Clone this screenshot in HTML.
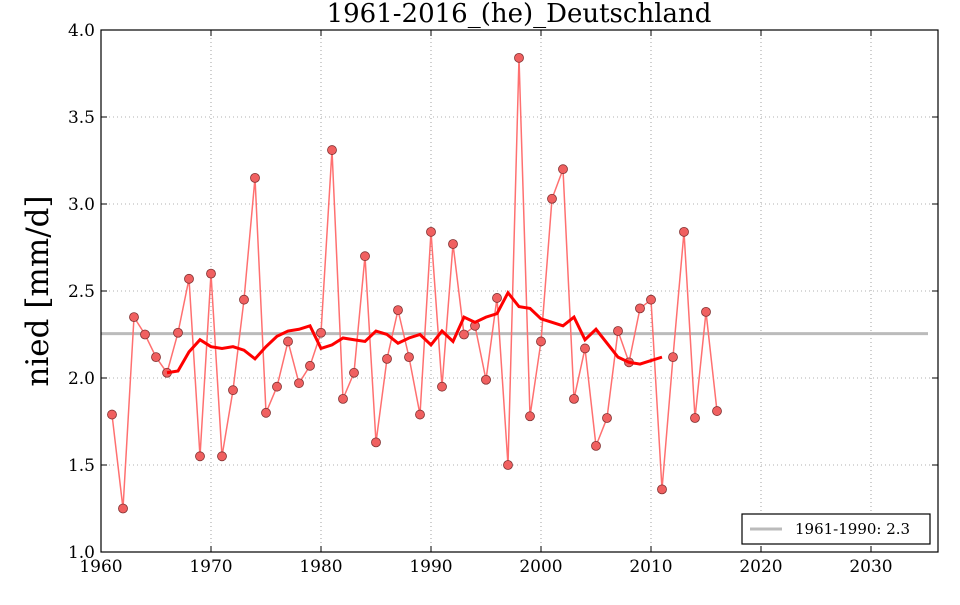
<!DOCTYPE html>
<html><head><meta charset="utf-8"><style>
body{margin:0;background:#fff}
svg text{font-family:"DejaVu Serif","Liberation Serif",serif}
</style></head><body>
<svg id="s" width="960" height="600" xmlns="http://www.w3.org/2000/svg">
<rect width="960" height="600" fill="#fff"/>
<g id="grid" stroke="#000" stroke-width="0.6" stroke-dasharray="1,3" opacity="0.6"></g>
<g id="ticks" stroke="#000" stroke-width="1"></g>
<g font-size="17" text-anchor="middle">
<text x="101" y="572">1960</text><text x="211" y="572">1970</text><text x="321" y="572">1980</text><text x="431" y="572">1990</text><text x="541" y="572">2000</text><text x="651" y="572">2010</text><text x="761" y="572">2020</text><text x="871" y="572">2030</text>
</g>
<g font-size="17" text-anchor="end">
<text x="95" y="558">1.0</text><text x="95" y="471">1.5</text><text x="95" y="384">2.0</text><text x="95" y="297">2.5</text><text x="95" y="210">3.0</text><text x="95" y="123">3.5</text><text x="95" y="36">4.0</text>
</g>
<text x="519" y="22" font-size="26" text-anchor="middle">1961-2016_(he)_Deutschland</text>
<text transform="translate(48,291) rotate(-90)" font-size="31" text-anchor="middle">nied [mm/d]</text>
<line x1="101" y1="333.6" x2="928" y2="333.6" stroke="#bbb" stroke-width="3"/>
<g id="data"></g>
<rect x="101" y="30" width="837" height="522" fill="none" stroke="#000" stroke-width="1.2"/>
<rect x="742" y="514" width="188" height="30" fill="#fff" stroke="#000" stroke-width="1.2"/>
<line x1="750" y1="529" x2="782" y2="529" stroke="#bbb" stroke-width="3"/>
<text x="795" y="534" font-size="15">1961-1990: 2.3</text>
</svg>
<script>
var X=function(y){return 101+(y-1960)*11},Y=function(v){return 552-(v-1)*174};
var ns="http://www.w3.org/2000/svg";
function el(p,t,a){var e=document.createElementNS(ns,t);for(var k in a)e.setAttribute(k,a[k]);document.getElementById(p).appendChild(e);return e}
for(var y=1970;y<=2030;y+=10){el("grid","line",{x1:X(y),y1:30,x2:X(y),y2:552});el("ticks","line",{x1:X(y),y1:552,x2:X(y),y2:546});el("ticks","line",{x1:X(y),y1:30,x2:X(y),y2:36});}
for(var v=1.5;v<4;v+=0.5){el("grid","line",{x1:101,y1:Y(v),x2:938,y2:Y(v)});el("ticks","line",{x1:101,y1:Y(v),x2:107,y2:Y(v)});el("ticks","line",{x1:938,y1:Y(v),x2:932,y2:Y(v)});}
var d=[1.79,1.25,2.35,2.25,2.12,2.03,2.26,2.57,1.55,2.60,1.55,1.93,2.45,3.15,1.80,1.95,2.21,1.97,2.07,2.26,3.31,1.88,2.03,2.70,1.63,2.11,2.39,2.12,1.79,2.84,1.95,2.77,2.25,2.30,1.99,2.46,1.50,3.84,1.78,2.21,3.03,3.20,1.88,2.17,1.61,1.77,2.27,2.09,2.40,2.45,1.36,2.12,2.84,1.77,2.38,1.81];
var m=[2.03,2.04,2.15,2.22,2.18,2.17,2.18,2.16,2.11,2.18,2.24,2.27,2.28,2.30,2.17,2.19,2.23,2.22,2.21,2.27,2.25,2.20,2.23,2.25,2.19,2.27,2.21,2.35,2.32,2.35,2.37,2.49,2.41,2.40,2.34,2.32,2.30,2.35,2.22,2.28,2.20,2.12,2.09,2.08,2.10,2.12];
el("data","polyline",{points:d.map(function(v,i){return X(1961+i)+","+Y(v)}).join(" "),fill:"none",stroke:"#ff7070","stroke-width":1.5});
d.forEach(function(v,i){el("data","circle",{cx:X(1961+i),cy:Y(v),r:4.5,fill:"#f06060",stroke:"#803030","stroke-width":0.8})});
el("data","polyline",{points:m.map(function(v,i){return X(1966+i)+","+Y(v)}).join(" "),fill:"none",stroke:"#f00","stroke-width":3});
</script>
</body></html>
